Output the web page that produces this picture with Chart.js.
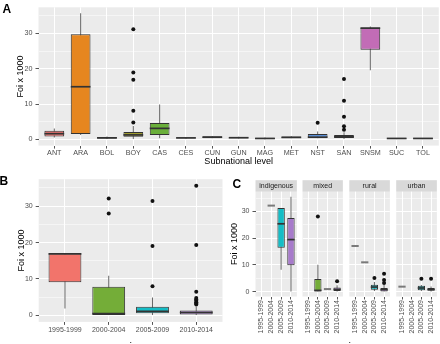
<!DOCTYPE html>
<html>
<head>
<meta charset="utf-8">
<script src="https://cdn.jsdelivr.net/npm/chart.js@4.4.1/dist/chart.umd.min.js"></script>
<style>
  body { margin: 0; background: #fff; }
  #wrap { position: relative; width: 440px; height: 344px; overflow: hidden; font-family: "Liberation Sans", Arial, sans-serif; }
  canvas { position: absolute; }
  .tag { position: absolute; font-weight: bold; font-size: 12px; line-height: 12px; color: #000; }
  .dot { position: absolute; font-size: 9px; line-height: 9px; color: #000; }
</style>
</head>
<body>
<div id="wrap">
  <canvas id="chartA" width="440" height="172" style="left:0;top:0"></canvas>
  <canvas id="chartB" width="223" height="172" style="left:0;top:172px"></canvas>
  <canvas id="chartC0" width="80" height="174" style="left:220px;top:170px"></canvas>
  <canvas id="chartC1" width="44" height="174" style="left:302px;top:170px"></canvas>
  <canvas id="chartC2" width="44" height="174" style="left:349px;top:170px"></canvas>
  <canvas id="chartC3" width="44" height="174" style="left:396px;top:170px"></canvas>
  <div class="tag" style="left:2.5px;top:3.4px">A</div>
  <div class="tag" style="left:-0.5px;top:175px">B</div>
  <div class="tag" style="left:232.5px;top:178.4px">C</div>
  <div class="dot" style="left:129.5px;top:335.5px">.</div>
  <div class="dot" style="left:348.5px;top:335.5px">.</div>
</div>
<script>
// panel A: subnational level
var regions = ["ANT", "ARA", "BOL", "BOY", "CAS", "CES", "CUN", "GUN", "MAG", "MET", "NST", "SAN", "SNSM", "SUC", "TOL"];
var regionLow = [0.5, 1.2, 0.1, 0.1, 0.3, 0.15, 0.3, 0.2, 0.05, 0.3, 0.3, 0.1, 19.6, 0.1, 0.1];
var regionQ1 = [0.8, 1.5, 0.25, 0.7, 1.25, 0.3, 0.4, 0.3, 0.1, 0.4, 0.45, 0.35, 25.4, 0.15, 0.15];
var regionMedian = [1.6, 14.9, 0.4, 1.25, 3.1, 0.4, 0.6, 0.45, 0.25, 0.55, 0.6, 0.7, 31.5, 0.25, 0.25];
var regionQ3 = [2.4, 29.8, 0.65, 2.1, 4.65, 0.5, 0.85, 0.6, 0.4, 0.8, 1.5, 1.25, 31.7, 0.35, 0.35];
var regionHigh = [3.1, 35.7, 0.8, 3.8, 9.9, 0.6, 0.9, 0.7, 0.5, 0.9, 2.2, 2.0, 32.0, 0.4, 0.4];
var regionOutliers = [[], [], [], [31.2, 18.9, 16.9, 8.1, 4.75], [], [], [], [], [], [], [4.7], [17.1, 10.9, 6.4, 3.7, 2.7], [], [], []];

// panel B: period
var periods = ["1995-1999", "2000-2004", "2005-2009", "2010-2014"];
var periodLow = [1.9, 0.0, 0.1, 0.0];
var periodQ1 = [9.1, 0.1, 0.6, 0.25];
var periodMedian = [16.9, 0.5, 1.15, 0.8];
var periodQ3 = [17.1, 7.9, 2.4, 1.35];
var periodHigh = [17.1, 10.9, 4.9, 2.4];
var periodOutliers = [[], [32.1, 28.0], [31.4, 19.05, 8.0], [35.6, 19.3, 6.5, 4.8, 4.4, 4.0, 3.6, 3.3, 3.0]];

// panel C: period by setting (one row per facet)
var settings = ["indigenous", "mixed", "rural", "urban"];
var settingLow = [[null, 32.2, 8.2, 0.1], [null, 0.0, 1.0, 0.1], [17.1, 11.0, 0.3, 0.0], [1.9, null, 0.3, 0.1]];
var settingQ1 = [[null, 32.2, 16.4, 9.9], [null, 0.1, 1.0, 0.25], [17.1, 11.0, 0.75, 0.1], [1.9, null, 0.6, 0.4]];
var settingMedian = [[null, 32.2, 25.4, 19.5], [null, 0.5, 1.0, 0.85], [17.1, 11.0, 1.75, 0.8], [1.9, null, 1.4, 0.85]];
var settingQ3 = [[null, 32.2, 31.3, 27.6], [null, 4.75, 1.0, 1.6], [17.1, 11.0, 2.6, 1.4], [1.9, null, 2.25, 1.4]];
var settingHigh = [[null, 32.2, 31.3, 35.5], [null, 10.1, 1.0, 2.4], [17.1, 11.0, 3.6, 2.6], [1.9, null, 2.5, 2.0]];
var settingOutliers = [[[], [], [], []], [[], [28.1], [], [3.9]], [[], [], [5.1], [6.7, 4.4, 3.3]], [[], [], [4.9], [4.9]]];

var yTicks = [0, 5, 10, 15, 20, 25, 30, 35];
var yLabelled = [0, 10, 20, 30];

var regionColors = ["#EE7470", "#E6861F", "#C99800", "#9E9B2E", "#6AAF3A", "#00BA38", "#00BF7D", "#00C0AF", "#00BCD8", "#00B0F6", "#5A8FD6", "#9466B8", "#C26CB6", "#FD61D1", "#FF67A4"];
var periodColors = ["#F2746B", "#74AD38", "#14BDC6", "#A77BCB"];

var FONT = '"Liberation Sans", Arial, sans-serif';

// grey panel background
var panelBg = {
  id: "panelBg",
  beforeDraw: function (chart) {
    var a = chart.chartArea, ctx = chart.ctx;
    ctx.save();
    ctx.fillStyle = "#EBEBEB";
    ctx.fillRect(a.left, a.top, a.right - a.left, a.bottom - a.top);
    ctx.restore();
  }
};

// facet strip above the panel
var strip = {
  id: "strip",
  beforeDraw: function (chart, args, opts) {
    if (!opts.text) return;
    var a = chart.chartArea, ctx = chart.ctx;
    ctx.save();
    ctx.fillStyle = "#D9D9D9";
    ctx.fillRect(a.left, a.top - 11.5, a.right - a.left, 11.5);
    ctx.fillStyle = "#1A1A1A";
    ctx.font = "7px " + FONT;
    ctx.textAlign = "center";
    ctx.textBaseline = "middle";
    ctx.fillText(opts.text, (a.left + a.right) / 2, a.top - 5.6);
    ctx.restore();
  }
};

// median line of each box
var medians = {
  id: "medians",
  afterDatasetsDraw: function (chart) {
    var meta = chart.getDatasetMeta(1), ctx = chart.ctx, y = chart.scales.y;
    var raw = chart.data.datasets[1].data;
    ctx.save();
    meta.data.forEach(function (bar, j) {
      var d = raw[j];
      var py = y.getPixelForValue(d.med);
      var flat = d.y[0] === d.y[1];
      ctx.strokeStyle = flat ? "#7a7a7a" : "#333";
      ctx.lineWidth = flat ? 2 : 1.7;
      ctx.beginPath();
      ctx.moveTo(bar.x - bar.width / 2, py);
      ctx.lineTo(bar.x + bar.width / 2, py);
      ctx.stroke();
    });
    ctx.restore();
  }
};

function boxChart(id, cfg) {
  var n = cfg.labels.length;
  var boxes = [], whiskers = [], points = [];
  for (var i = 0; i < n; i++) {
    if (cfg.q1[i] == null) continue;
    boxes.push({ x: i, y: [cfg.q1[i], cfg.q3[i]], med: cfg.median[i] });
    whiskers.push({ x: i, y: [cfg.low[i], cfg.high[i]] });
    cfg.outliers[i].forEach(function (v) { points.push({ x: i, y: v }); });
  }
  var showY = cfg.yWidth > 0;

  return new Chart(document.getElementById(id), {
    type: "bar",
    data: {
      datasets: [
        {
          type: "scatter",
          data: points,
          pointRadius: 2,
          pointBackgroundColor: "#111",
          pointBorderWidth: 0,
          order: 0
        },
        {
          data: boxes,
          backgroundColor: function (ctx) { return ctx.raw ? cfg.colors[ctx.raw.x] : "#999"; },
          borderColor: "#333",
          borderWidth: 1,
          borderSkipped: false,
          barPercentage: 0.75,
          categoryPercentage: 1,
          grouped: false,
          order: 1
        },
        {
          data: whiskers,
          backgroundColor: "#666",
          maxBarThickness: 1,
          grouped: false,
          order: 2
        }
      ]
    },
    options: {
      responsive: false,
      animation: false,
      events: [],
      layout: { autoPadding: false, padding: cfg.padding },
      plugins: {
        legend: { display: false },
        tooltip: { enabled: false },
        strip: { text: cfg.strip || "" }
      },
      scales: {
        x: {
          type: "linear",
          offset: false,
          min: -0.6,
          max: n - 0.4,
          afterBuildTicks: function (s) {
            s.ticks = cfg.labels.map(function (l, k) { return { value: k }; });
          },
          afterFit: function (s) { s.height = cfg.xHeight; },
          border: { display: false },
          grid: { offset: false, color: "#fff", lineWidth: 1, tickLength: 3, tickColor: "#555", tickWidth: 1 },
          ticks: {
            callback: function (v) { return cfg.labels[v]; },
            color: "#4D4D4D",
            font: { size: cfg.tickSize, family: FONT },
            padding: cfg.xPad,
            autoSkip: false,
            minRotation: cfg.rot,
            maxRotation: cfg.rot
          },
          title: {
            display: !!cfg.xTitle,
            text: cfg.xTitle || "",
            color: "#000",
            font: { size: 9, family: FONT, lineHeight: 1.2 },
            padding: { top: 0, bottom: 4.6 }
          }
        },
        y: {
          min: -1.78,
          max: 37.4,
          afterBuildTicks: function (s) {
            s.ticks = yTicks.map(function (v) { return { value: v }; });
          },
          afterFit: function (s) { s.width = cfg.yWidth; },
          border: { display: false },
          grid: {
            color: "#fff",
            lineWidth: function (c) { return yLabelled.indexOf(c.tick.value) >= 0 ? 1 : 0.5; },
            drawTicks: showY,
            tickLength: 3,
            tickWidth: 1,
            tickColor: function (c) { return yLabelled.indexOf(c.tick.value) >= 0 ? "#555" : "rgba(0,0,0,0)"; }
          },
          ticks: {
            display: showY,
            callback: function (v) { return yLabelled.indexOf(v) >= 0 ? v : ""; },
            color: "#4D4D4D",
            font: { size: cfg.tickSize, family: FONT },
            padding: 3
          },
          title: {
            display: showY,
            text: "Foi x 1000",
            color: "#000",
            font: { size: 9, family: FONT, lineHeight: 1.2 },
            padding: { top: cfg.yTitlePad, bottom: 0 }
          }
        }
      }
    },
    plugins: [panelBg, strip, medians]
  });
}

boxChart("chartA", {
  labels: regions, low: regionLow, q1: regionQ1, median: regionMedian, q3: regionQ3,
  high: regionHigh, outliers: regionOutliers, colors: regionColors,
  padding: { left: 0, right: 1.2, top: 0, bottom: 0 },
  yWidth: 38.5, xHeight: 26.4, yTitlePad: 15.3, xPad: 0.5, tickSize: 7.2, rot: 0,
  xTitle: "Subnational level"
});

boxChart("chartB", {
  labels: periods, low: periodLow, q1: periodQ1, median: periodMedian, q3: periodQ3,
  high: periodHigh, outliers: periodOutliers, colors: periodColors,
  padding: { left: 0, right: 0.5, top: 5.3, bottom: 0 },
  yWidth: 38.7, xHeight: 22.1, yTitlePad: 16.1, xPad: 0.5, tickSize: 7, rot: 0
});

var facetPad = [
  { left: 0, right: 1, top: 21.7, bottom: 0 },
  { left: 0.5, right: 0, top: 21.7, bottom: 0 },
  { left: 0.3, right: 0.2, top: 21.7, bottom: 0 },
  { left: 0.2, right: 0.3, top: 21.7, bottom: 0 }
];
settings.forEach(function (name, f) {
  boxChart("chartC" + f, {
    labels: periods, low: settingLow[f], q1: settingQ1[f], median: settingMedian[f], q3: settingQ3[f],
    high: settingHigh[f], outliers: settingOutliers[f], colors: periodColors,
    padding: facetPad[f], strip: name,
    yWidth: f === 0 ? 35.5 : 0, xHeight: 47.5, yTitlePad: 9.6, xPad: 0.5, tickSize: 7, rot: 90
  });
});
</script>
</body>
</html>
